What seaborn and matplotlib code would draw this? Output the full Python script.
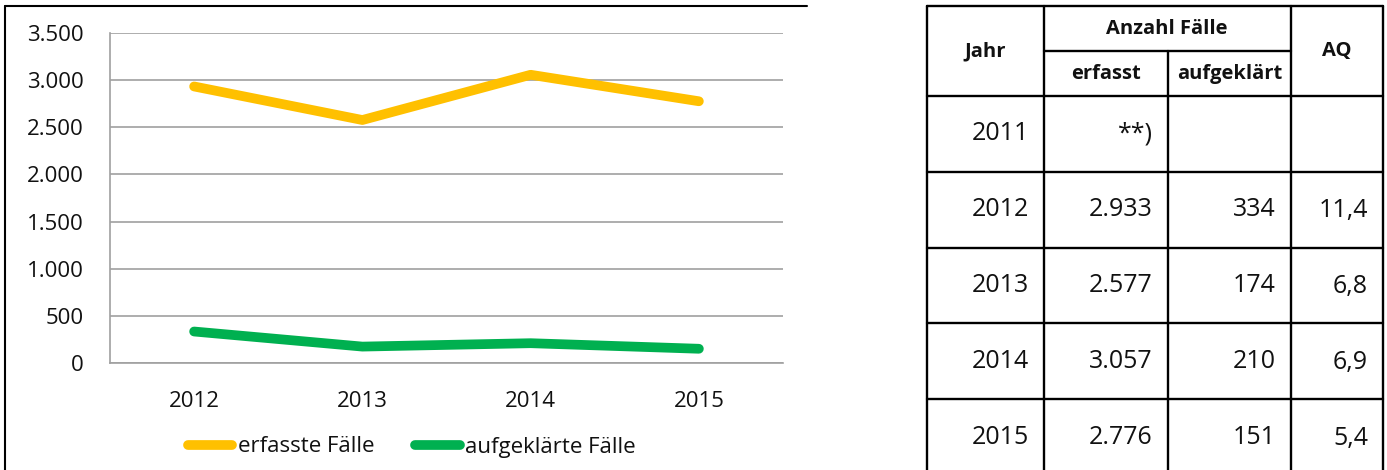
import numpy as np
import pandas as pd
import seaborn as sns
import matplotlib.pyplot as plt
from matplotlib.ticker import FuncFormatter, FixedLocator, MultipleLocator

# chart data
jahre_chart = ["2012", "2013", "2014", "2015"]
erfasst = [2933, 2577, 3057, 2776]
aufgeklaert = [334, 174, 210, 151]

# table data
jahre_tab = ["2011", "2012", "2013", "2014", "2015"]
erfasst_tab = [None, 2933, 2577, 3057, 2776]
aufgeklaert_tab = [None, 334, 174, 210, 151]
aq_tab = [None, 11.4, 6.8, 6.9, 5.4]

serien = ["erfasste Fälle", "aufgeklärte Fälle"]
farben = ["#FFC000", "#00B050"]
grau = "#A0A0A0"


def de_int(v):
    return f"{v:,}".replace(",", ".")


def de_dec(v):
    return f"{v:.1f}".replace(".", ",")


df = pd.DataFrame({
    "Jahr": jahre_chart * 2,
    "Fälle": erfasst + aufgeklaert,
    "Serie": [serien[0]] * 4 + [serien[1]] * 4,
})

sns.set_style("white")
plt.rcParams["font.family"] = ["Open Sans", "Noto Sans", "DejaVu Sans"]
plt.rcParams["text.color"] = "#111111"
plt.rcParams["xtick.color"] = "#111111"
plt.rcParams["ytick.color"] = "#111111"

W, H = 1387, 470
fig = plt.figure(figsize=(W / 100, H / 100), dpi=100)
ax = fig.add_axes([110 / W, 1 - 363 / H, (783 - 110) / W, (363 - 33) / H])

sns.lineplot(data=df, x="Jahr", y="Fälle", hue="Serie", palette=farben,
             linewidth=7, sort=False, ax=ax,
             solid_capstyle="round", solid_joinstyle="round")

ax.set_xlim(-0.5, 3.5)
ax.set_ylim(0, 3500)
ax.yaxis.set_major_locator(MultipleLocator(500))
ax.yaxis.set_major_formatter(FuncFormatter(lambda v, p: de_int(int(v))))
ax.grid(axis="y", color=grau, linewidth=1.2)
ax.set_axisbelow(True)
ax.set_xlabel("")
ax.set_ylabel("")
for s in ["top", "right"]:
    ax.spines[s].set_visible(False)
for s in ["left", "bottom"]:
    ax.spines[s].set_color(grau)
    ax.spines[s].set_linewidth(1.2)
ax.xaxis.set_minor_locator(FixedLocator(np.arange(-0.5, 4, 1)))
ax.tick_params(axis="x", which="major", length=0, pad=20, labelsize=16)
ax.tick_params(axis="x", which="minor", length=6, width=1.2, color=grau)
ax.tick_params(axis="y", length=6, width=1.2, color=grau, labelcolor="#111111",
               labelsize=16, pad=13)

handles, labels = ax.get_legend_handles_labels()
ax.get_legend().remove()
for h in handles:
    h.set_solid_capstyle("round")
fig.legend(handles, labels, loc="center", bbox_to_anchor=(412 / W, 1 - 447 / H),
           ncol=2, frameon=False, fontsize=16, handlelength=2.0,
           handletextpad=0.25, columnspacing=1.85)

# overlay for frame and table (pixel coordinates)
tax = fig.add_axes([0, 0, 1, 1])
tax.set_xlim(0, W)
tax.set_ylim(H, 0)
tax.axis("off")
tax.patch.set_visible(False)

lw = 1.7
# chart frame
tax.plot([5, 5], [6, H], color="black", lw=1.5)
tax.plot([5, 807], [6, 6], color="black", lw=1.5)

# table grid
cols = [927, 1044, 1168, 1291, 1383]
rows = [96, 172, 248, 323, 399]
tax.plot([cols[0], cols[-1]], [6, 6], color="black", lw=lw)
tax.plot([cols[1], cols[3]], [51, 51], color="black", lw=lw)
for r in rows:
    tax.plot([cols[0], cols[-1]], [r, r], color="black", lw=lw)
for i, c in enumerate(cols):
    y0 = 51 if i == 2 else 6
    tax.plot([c, c], [y0, H], color="black", lw=lw)

# header
kopf = dict(ha="center", va="center", fontsize=14.5, fontweight="bold")
tax.text(985, 51, "Jahr", **kopf)
tax.text(1167, 29, "Anzahl Fälle", **kopf)
tax.text(1106, 74, "erfasst", **kopf)
tax.text(1230, 74, "aufgeklärt", **kopf)
tax.text(1337, 51, "AQ", **kopf)

# body
pad = 15
zelle = dict(ha="right", va="center", fontsize=18)
for i, jahr in enumerate(jahre_tab):
    yc = 96 + 76 * i + 38
    tax.text(cols[1] - pad, yc, jahr, **zelle)
    if erfasst_tab[i] is None:
        tax.text(cols[2] - pad, yc, "**)", **zelle)
        continue
    tax.text(cols[2] - pad, yc, de_int(erfasst_tab[i]), **zelle)
    tax.text(cols[3] - pad, yc, de_int(aufgeklaert_tab[i]), **zelle)
    tax.text(cols[4] - pad, yc, de_dec(aq_tab[i]), **zelle)

plt.savefig("out.png", dpi=100)
